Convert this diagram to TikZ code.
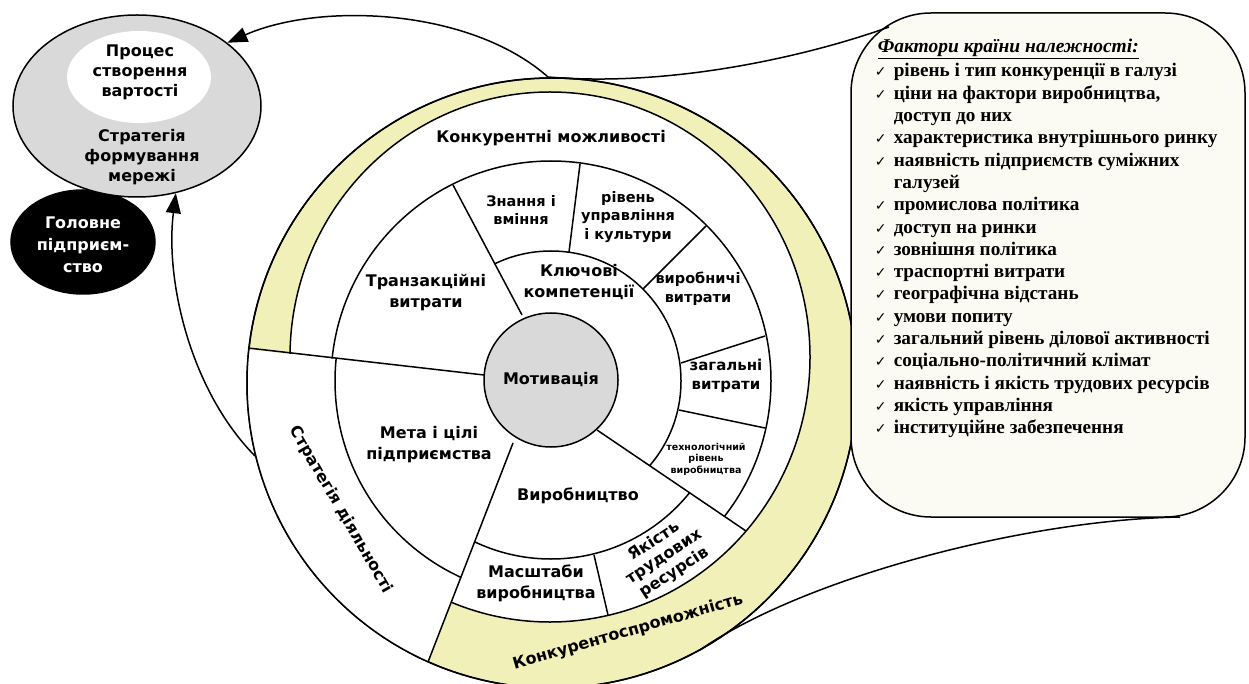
\documentclass[tikz,border=0pt]{standalone}
\usepackage{fontspec}
\setmainfont{DejaVu Sans}
\newfontfamily\tnr{Liberation Serif}
\newfontfamily\dvs{DejaVu Sans}
\usetikzlibrary{shapes.geometric,arrows.meta}
\definecolor{yel}{RGB}{242,240,185}
\definecolor{gr}{RGB}{217,217,217}
\definecolor{cream}{RGB}{252,251,243}
\begin{document}
\begin{tikzpicture}[x=1pt,y=-1pt, line width=1.5pt,
  lbl/.style={font=\bfseries\fontsize{16}{21}\selectfont, align=center, inner sep=0pt},
  lbs/.style={font=\bfseries\fontsize{14.5}{18.5}\selectfont, align=center, inner sep=0pt},
  lbt/.style={font=\bfseries\fontsize{9.5}{11.5}\selectfont, align=center, inner sep=0pt},
  item/.style={font=\tnr\bfseries\fontsize{19.2}{22}\selectfont, anchor=base west, inner sep=0pt},
  chk/.style={font=\dvs\fontsize{14}{14}\selectfont, anchor=base west, inner sep=0pt},
  arr/.style={-{Triangle[length=20pt,width=15pt]}, line width=1.5pt},
]
\useasboundingbox (0,0) rectangle (1249,684);

% ---------- big concentric diagram ----------
\filldraw[fill=yel] (552,383) circle[radius=305];
\filldraw[fill=white] (550,357) ellipse[x radius=260, y radius=265];
\begin{scope}
  \clip (552,383) circle[radius=305];
  \fill[white] (484,375) -- (150,339) -- (150,720) -- (406,720) -- (513,443) -- cycle;
\end{scope}

% outer arc of the middle ring
\begin{scope}
  \clip (484,375) -- (150,339) -- (150,-50) -- (1300,-50) -- (1300,905) -- (597,430) -- cycle;
  \draw (551,381) circle[radius=220];
\end{scope}
% key competences ring
\begin{scope}
  \clip (522,315) -- (318,-69) -- (1300,-69) -- (1300,905) -- (597,430) -- cycle;
  \draw (551,381) circle[radius=130];
\end{scope}
% production arc
\begin{scope}
  \clip (513,443) -- (406,720) -- (1300,905) -- (597,430) -- cycle;
  \draw (551,381) circle[radius=178];
\end{scope}
% goals arc
\begin{scope}
  \clip (484,375) -- (150,339) -- (150,720) -- (406,720) -- (513,443) -- cycle;
  \draw (551,381) circle[radius=216];
\end{scope}

% radial lines
\draw (484,375) -- (248,348);
\draw (513,443) -- (428,662);
\draw (522,315) -- (453,185);
\draw (597,430) -- (746,531);
\draw (569,252) -- (580,164);
\draw (643,289) -- (706,226);
\draw (681,363) -- (765,336);
\draw (679,410) -- (765,428);
\draw (594,555) -- (608,615);

\draw (552,383) circle[radius=305];

\node[circle, draw, fill=gr, minimum size=134pt, inner sep=0pt, lbl] (mot) at (551,380) {Мотивація};

% labels
\node[lbl] (l1) at (551,138) {Конкурентні можливості};
\node[lbs] (l2) at (521,210) {Знання і\\вміння};
\node[lbs] (l3) at (628,217) {рівень\\управління\\і культури};
\node[lbl] (l4) at (426,293) {Транзакційні\\витрати};
\node[lbl] (l5) at (579,282) {Ключові\\компетенції};
\node[lbs] (l6) at (698,289) {виробничі\\витрати};
\node[lbl, font=\bfseries\fontsize{15}{19}\selectfont] (l7) at (726,376) {загальні\\витрати};
\node[lbt] (l8) at (706,459) {технологічний\\рівень\\виробництва};
\node[lbl] (l9) at (429,445) {Мета і цілі\\підприємства};
\node[lbl] (l10) at (578,496) {Виробництво};
\node[lbl] (l11) at (536,583) {Масштаби\\виробництва};
\node[lbl, font=\bfseries\fontsize{16}{18.5}\selectfont, rotate=33] (l12) at (664,557) {Якість\\трудових\\ресурсів};
\node[lbl, rotate=-60] (l13) at (341,510) {Стратегія діяльності};
\node[lbl, rotate=16] (l14) at (628,632) {Конкурентоспроможність};

% ---------- left ellipses ----------
\node[ellipse, draw, fill=black, minimum width=144pt, minimum height=104pt] (head) at (83,242) {};
\node[ellipse, draw, fill=gr, minimum width=248pt, minimum height=182pt] (net) at (137,106) {};
\node[ellipse, fill=white, minimum width=144pt, minimum height=92pt] (proc) at (139,77) {};
\node[lbl, font=\bfseries\fontsize{16}{20}\selectfont] (t1) at (140,72) {Процес\\створення\\вартості};
\node[lbl, font=\bfseries\fontsize{16}{20}\selectfont] (t2) at (142,157) {Стратегія\\формування\\мережі};
\node[lbl, font=\bfseries\fontsize{16}{22}\selectfont, text=white] (t3) at (83,245) {Головне\\підприєм-\\ство};

\coordinate (topc) at (548,77);
\coordinate (leftc) at (255,456);
\draw[arr] (topc) .. controls (470,8) and (320,2) .. (net.35);
\draw[arr] (leftc) .. controls (190,390) and (165,280) .. (net.-66);

% ---------- factor box ----------
\node[draw, fill=cream, rounded corners=80pt, minimum width=394pt, minimum height=504pt, inner sep=0pt] (box) at (1048,265) {};
\coordinate (bt1) at (889,27);
\coordinate (bt2) at (1180,517);
\coordinate (botc) at (700,650);
\draw (bt1) .. controls (820,52) and (680,88) .. (topc);
\draw (bt2) .. controls (1020,520) and (800,580) .. (botc);

\node[font=\tnr\bfseries\itshape\fontsize{19.5}{22}\selectfont, anchor=base west, inner sep=0pt] (title) at (877,53) {\underline{Фактори країни належності:}};
\foreach \t [count=\i from 0] in {
  рівень і тип конкуренції в галузі,
  {ціни на фактори виробництва,},
  доступ до них,
  характеристика внутрішнього ринку,
  наявність підприємств суміжних,
  галузей,
  промислова політика,
  доступ на ринки,
  зовнішня політика,
  траспортні витрати,
  географічна відстань,
  умови попиту,
  загальний рівень ділової активності,
  соціально-політичний клімат,
  наявність і якість трудових ресурсів,
  якість управління,
  інституційне забезпечення}
  \node[item] (f\i) at (893,{77+22.3*\i}) {\t};
\foreach \i in {0,1,3,4,6,7,8,9,10,11,12,13,14,15,16}
  \node[chk] (c\i) at (874,{77+22.3*\i}) {✓};
\end{tikzpicture}
\end{document}
